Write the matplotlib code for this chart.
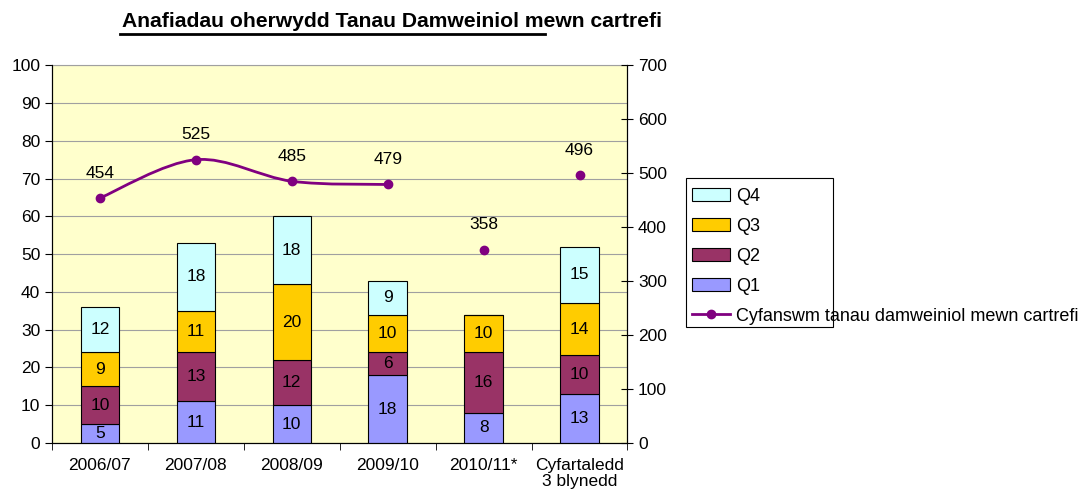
import matplotlib.pyplot as plt
import numpy as np
from matplotlib.path import Path
from matplotlib.patches import PathPatch, Rectangle
from matplotlib.lines import Line2D

plt.rcParams['font.family'] = ['Liberation Sans', 'DejaVu Sans']

categories = ["2006/07", "2007/08", "2008/09", "2009/10", "2010/11*", "Cyfartaledd\n3 blynedd"]
q1 = [5, 11, 10, 18, 8, 13]
q2 = [10, 13, 12, 6, 16, 10.33]
q3 = [9, 11, 20, 10, 10, 13.67]
q4 = [12, 18, 18, 9, 0, 15]
totals = [454, 525, 485, 479, 358, 496]
n_joined = 4  # first four years are joined by a smoothed line

series = [("Q1", q1, "#9999FF"), ("Q2", q2, "#993366"),
          ("Q3", q3, "#FFCC00"), ("Q4", q4, "#CCFFFF")]
line_color = "#800080"
fs = 12.5

fig = plt.figure(figsize=(10.92, 4.9), dpi=100)
ax = fig.add_axes([0.0476, 0.0959, 0.527, 0.771])
ax.set_facecolor("#FFFFCC")

x = np.arange(len(categories))
bottom = np.zeros(len(categories))
handles = {}
for name, vals, col in series:
    vals = np.array(vals, dtype=float)
    bars = ax.bar(x, vals, 0.4, bottom=bottom, color=col, edgecolor="black",
                  linewidth=0.8, zorder=3)
    labels = [f"{v:.0f}" if v > 0 else "" for v in vals]
    ax.bar_label(bars, labels=labels, label_type="center", fontsize=fs, zorder=4)
    handles[name] = bars
    bottom += vals

ax.set_xlim(-0.5, len(categories) - 0.5)
ax.set_ylim(0, 100)
ax.set_yticks(np.arange(0, 101, 10))
ax.yaxis.grid(True, color="#A0A0A0", linewidth=0.8, zorder=0)
ax.set_xticks(x)
ax.set_xticklabels(categories, fontsize=fs, linespacing=1.1)
ax.set_xticks(np.arange(-0.5, len(categories)), minor=True)
ax.tick_params(axis="x", which="major", length=0, pad=11)
ax.tick_params(axis="x", which="minor", length=5, direction="out")
ax.tick_params(axis="y", labelsize=fs, length=5)
ax.spines["top"].set_color("#A0A0A0")

ax2 = ax.twinx()
ax2.set_ylim(0, 700)
ax2.set_yticks(np.arange(0, 701, 100))
ax2.tick_params(axis="y", labelsize=fs, length=8, direction="inout")
ax2.spines["top"].set_visible(False)

# smoothed line through the joined points (Catmull-Rom style Bezier)
px = x[:n_joined].astype(float)
py = np.array(totals[:n_joined], dtype=float)
pts = np.column_stack([px, py])
ext = np.vstack([pts[0], pts, pts[-1]])
verts = [pts[0]]
codes = [Path.MOVETO]
for i in range(n_joined - 1):
    p0, p1, p2, p3 = ext[i], ext[i + 1], ext[i + 2], ext[i + 3]
    verts += [p1 + (p2 - p0) / 6, p2 - (p3 - p1) / 6, p2]
    codes += [Path.CURVE4] * 3
ax2.add_patch(PathPatch(Path(verts, codes), facecolor="none",
                        edgecolor=line_color, linewidth=2, zorder=5))
ax2.plot(x, totals, "o", color=line_color, markersize=6, zorder=6)
for xi, t in zip(x, totals):
    ax2.annotate(f"{t}", (xi, t), xytext=(0, 12.5), textcoords="offset points",
                 ha="center", va="bottom", fontsize=fs)

# title with the partial underline of the original
fig.text(0.359, 0.957, "Anafiadau oherwydd Tanau Damweiniol mewn cartrefi",
         ha="center", va="center", fontsize=15.2, fontweight="bold")
fig.add_artist(Line2D([0.110, 0.499], [0.930, 0.930], color="black",
                      linewidth=2, transform=fig.transFigure))

# legend
line_handle = Line2D([], [], color=line_color, marker="o", markersize=6, linewidth=2)
leg_handles = [handles["Q4"], handles["Q3"], handles["Q2"], handles["Q1"], line_handle]
leg_labels = ["Q4", "Q3", "Q2", "Q1", "Cyfanswm tanau damweiniol mewn cartrefi"]
fig.legend(leg_handles, leg_labels, loc="upper left",
           bbox_to_anchor=(0.634, 0.617), frameon=False, fontsize=fs + 0.5,
           handlelength=2.1, handletextpad=0.3, labelspacing=0.72,
           borderaxespad=0, borderpad=0)
fig.add_artist(Rectangle((0.628, 0.333), 0.135, 0.304, fill=False,
                         edgecolor="black", linewidth=0.8,
                         transform=fig.transFigure))

fig.savefig("out.png", dpi=100)
